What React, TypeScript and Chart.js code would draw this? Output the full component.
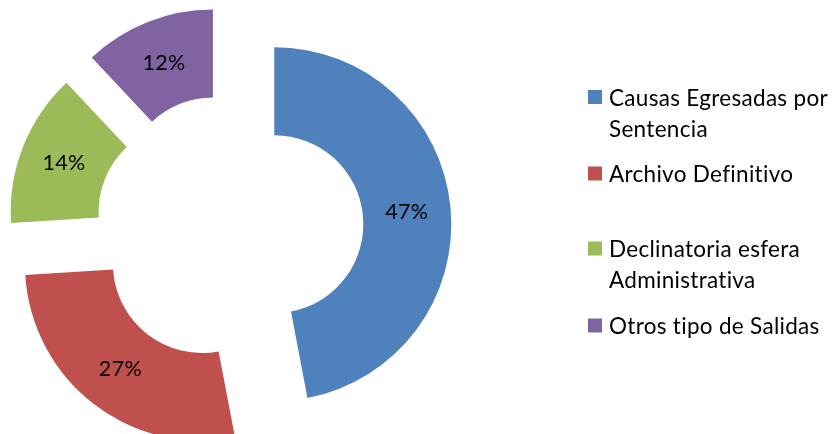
import React, { useEffect, useRef } from "react";
import { Chart, registerables } from "chart.js";

Chart.register(...registerables);

const categories = [
  "Causas Egresadas por Sentencia",
  "Archivo Definitivo",
  "Declinatoria esfera Administrativa",
  "Otros tipo de Salidas",
];
const legendLines = [
  ["Causas Egresadas por", "Sentencia"],
  ["Archivo Definitivo"],
  ["Declinatoria esfera", "Administrativa"],
  ["Otros tipo de Salidas"],
];
const values = [47, 27, 14, 12];
const percentLabels = ["47%", "27%", "14%", "12%"];
const colors = ["#4F81BD", "#C0504D", "#9BBB59", "#8064A2"];

const EXPLODE = 45;
const FONT = "Lato";
const LEGEND_BASELINES = [105.5, 182, 257, 334];
const LEGEND_LINE_H = 31;

const explodePlugin = {
  id: "explodeSlices",
  beforeDatasetDraw(chart: any, args: any) {
    const ctx = chart.ctx;
    const meta = args.meta;
    meta.data.forEach((arc: any) => {
      const half = (arc.startAngle + arc.endAngle) / 2;
      ctx.save();
      ctx.translate(Math.cos(half) * EXPLODE, Math.sin(half) * EXPLODE);
      arc.draw(ctx);
      ctx.restore();
    });
    return false;
  },
  afterDatasetsDraw(chart: any) {
    const ctx = chart.ctx;
    const meta = chart.getDatasetMeta(0);
    ctx.save();
    ctx.fillStyle = "#000";
    ctx.font = `21.5px ${FONT}`;
    (ctx as any).letterSpacing = "0.3px";
    ctx.textAlign = "center";
    ctx.textBaseline = "middle";
    meta.data.forEach((arc: any, i: number) => {
      const half = (arc.startAngle + arc.endAngle) / 2;
      const p = arc.tooltipPosition(false);
      ctx.fillText(
        percentLabels[i],
        p.x + Math.cos(half) * EXPLODE,
        p.y + Math.sin(half) * EXPLODE
      );
    });
    ctx.restore();
  },
  afterDraw(chart: any) {
    const ctx = chart.ctx;
    ctx.save();
    ctx.font = `22.5px ${FONT}`;
    (ctx as any).letterSpacing = "0.3px";
    ctx.textAlign = "left";
    ctx.textBaseline = "alphabetic";
    legendLines.forEach((lines, i) => {
      const base = LEGEND_BASELINES[i];
      ctx.fillStyle = colors[i];
      ctx.fillRect(588, base - 15.5, 14, 14);
      ctx.fillStyle = "#000";
      lines.forEach((t, j) => {
        ctx.fillText(t, 609, base + j * LEGEND_LINE_H);
      });
    });
    ctx.restore();
  },
};

export default function App() {
  const ref = useRef<HTMLCanvasElement>(null);
  useEffect(() => {
    if (!ref.current) return;
    const chart = new Chart(ref.current, {
      type: "doughnut",
      data: {
        labels: categories,
        datasets: [
          {
            data: values,
            backgroundColor: colors,
            borderWidth: 0,
          },
        ],
      },
      options: {
        responsive: false,
        animation: false,
        cutout: "50.3%",
        layout: { padding: { left: 52.5, right: 428.5, top: 51.4, bottom: 28.6 } },
        plugins: {
          legend: { display: false },
          tooltip: { enabled: false },
        },
        events: [],
      },
      plugins: [explodePlugin],
    });
    return () => chart.destroy();
  }, []);
  return (
    <div style={{ position: "absolute", left: 0, top: 0, width: 835, height: 434, background: "#fff" }}>
      <canvas ref={ref} width={835} height={434} style={{ width: 835, height: 434 }} />
    </div>
  );
}
